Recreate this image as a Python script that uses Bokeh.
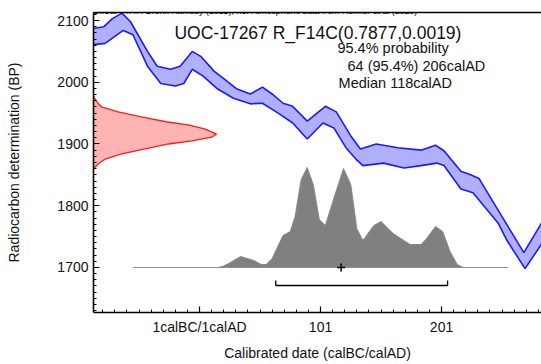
from bokeh.plotting import figure
from bokeh.models import (Range1d, LinearAxis, FixedTicker, Label)
from bokeh.embed import file_html
from bokeh.resources import INLINE

# ---- data ----
# Calibration curve band (calendar year, radiocarbon BP)
upper_year = [-87, -78, -71, -63, -56, -42, -34, -23, -15, -5, 2, 13, 21, 32, 43, 53, 61, 70, 78, 90,
              105, 114, 126, 134, 147, 165, 184, 196, 203, 217, 225, 232, 252, 269, 284]
upper_bp = [2087, 2090, 2103, 2112, 2098, 2050, 2026, 2021, 2026, 2050, 2042, 2018, 2006, 1989, 1981,
            1992, 1981, 1966, 1961, 1937, 1961, 1952, 1913, 1892, 1900, 1894, 1890, 1898, 1889, 1856,
            1850, 1844, 1779, 1724, 1773]
lower_year = [-87, -77, -62, -54, -42, -31, -19, -12, -5, 4, 16, 29, 43, 53, 66, 78, 90, 103, 112, 122,
              130, 136, 153, 170, 184, 197, 203, 217, 227, 248, 255, 270, 284]
lower_bp = [2061, 2063, 2084, 2077, 2026, 1998, 1994, 1998, 2021, 2010, 1989, 1974, 1965, 1966, 1950,
            1934, 1908, 1934, 1926, 1894, 1876, 1865, 1869, 1861, 1865, 1869, 1865, 1827, 1821, 1771,
            1744, 1698, 1739]

# Radiocarbon measurement distribution (BP, relative density)
meas_bp = [1977, 1969, 1960, 1952, 1944, 1936, 1931, 1924, 1916, 1911, 1905, 1900, 1892, 1884, 1876,
           1868, 1860]
meas_p = [0.0, 0.024, 0.065, 0.20, 0.39, 0.59, 0.77, 0.91, 1.0, 0.96, 0.80, 0.61, 0.42, 0.23, 0.10,
          0.04, 0.0]

# Calibrated distribution (calendar year, relative density)
cal_year = [-54, 16, 20, 25, 35, 46, 52, 56, 61, 70, 76, 80, 85, 90, 95, 100, 105, 113, 120, 126, 131,
            136, 145, 151, 161, 175, 184, 188, 196, 202, 208, 214, 219, 256]
cal_p = [0, 0, 0.01, 0.04, 0.11, 0.07, 0.03, 0.03, 0.09, 0.32, 0.36, 0.51, 0.88, 1.0, 0.83, 0.48, 0.42,
         0.73, 0.99, 0.83, 0.39, 0.27, 0.42, 0.46, 0.34, 0.23, 0.23, 0.28, 0.41, 0.36, 0.16, 0.03, 0, 0]

range_from = [64]
range_to = [206]
median = [118]

y_ticks = [1700, 1800, 1900, 2000, 2100]
x_ticks = [1, 101, 201]
x_tick_labels = {1: "1calBC/1calAD", 101: "101", 201: "201"}

header = "OxCal v4.4.4 Bronk Ramsey (2021); r:5: Atmospheric data from Reimer et al (2020)"
sample = "UOC-17267 R_F14C(0.7877,0.0019)"

FONT = "Liberation Sans"

p = figure(width=541, height=364, output_backend="svg", toolbar_location=None,
           x_range=Range1d(-86.6, 283.6), y_range=Range1d(1627, 2113),
           frame_width=448, frame_height=300,
           min_border_left=93, min_border_right=0, min_border_top=12, min_border_bottom=52,
           x_axis_location=None, y_axis_location=None)
p.outline_line_color = None
p.xgrid.visible = False
p.ygrid.visible = False
p.background_fill_color = "white"
p.border_fill_color = "white"

p.extra_x_ranges = {"prob": Range1d(0, 448 / 123)}
p.extra_y_ranges = {"cal": Range1d(-0.45, 2.55)}

# calibration band
band_x = upper_year + lower_year[::-1]
band_y = upper_bp + lower_bp[::-1]
p.patch(band_x, band_y, fill_color="#b0b0ff", line_color=None)
p.line(upper_year, upper_bp, line_color="#1a1aff", line_width=1.6)
p.line(lower_year, lower_bp, line_color="#1a1aff", line_width=1.6)

# measurement distribution on y axis
p.patch(meas_p, meas_bp, x_range_name="prob", fill_color="#ffb4b4", line_color=None)
p.line(meas_p, meas_bp, x_range_name="prob", line_color="#ff1a1a", line_width=1.3)

# calibrated distribution
p.patch(cal_year, cal_p, y_range_name="cal", fill_color="#808080", line_color="#8a8a8a", line_width=1)
p.line([cal_year[0], cal_year[-1]], [0, 0], y_range_name="cal", line_color="#8c8c8c", line_width=1)

# median cross
p.scatter(median, [0], y_range_name="cal", marker="cross", size=8, line_color="black", line_width=1.5)

# 95.4% range bracket
br_y = -0.18
br_t = -0.13
p.line([range_from[0], range_from[0], range_to[0], range_to[0]], [br_t, br_y, br_y, br_t],
       y_range_name="cal", line_color="black", line_width=1.3)

# axes
yax = LinearAxis(ticker=FixedTicker(ticks=y_ticks, minor_ticks=list(range(1630, 2120, 10))))
yax.axis_label = "Radiocarbon determination (BP)"
p.add_layout(yax, "left")

xax = LinearAxis(ticker=FixedTicker(ticks=x_ticks, minor_ticks=list(range(-79, 290, 10))))
xax.axis_label = "Calibrated date (calBC/calAD)"
xax.major_label_overrides = x_tick_labels
p.add_layout(xax, "below")

for ax in (xax, yax):
    ax.axis_line_color = "black"
    ax.axis_line_width = 1.6
    ax.major_tick_in = 6
    ax.major_tick_out = 0
    ax.minor_tick_in = 3
    ax.minor_tick_out = 0
    ax.major_tick_line_color = "black"
    ax.minor_tick_line_color = "black"
    ax.major_tick_line_width = 1.2
    ax.minor_tick_line_width = 1
    ax.major_label_text_font = FONT
    ax.major_label_text_font_size = "14px"
    ax.major_label_text_color = "#111111"
    ax.axis_label_text_font = FONT
    ax.axis_label_text_font_size = "14px"
    ax.axis_label_text_font_style = "normal"
    ax.axis_label_text_color = "#111111"

yax.major_label_standoff = 5
yax.axis_label_standoff = 32
xax.major_label_standoff = 6
xax.axis_label_standoff = 7

top = LinearAxis(ticker=FixedTicker(ticks=[]), axis_line_color="black", axis_line_width=1.6,
                 major_tick_line_color=None, minor_tick_line_color=None,
                 major_label_text_font_size="0px")
p.add_layout(top, "above")

# texts
p.add_layout(Label(x=-87.4, y=2116, text=header, text_font=FONT, text_font_size="8.8px",
                   text_color="#000000", text_baseline="alphabetic", level="overlay"))
p.add_layout(Label(x=-19.7, y=2080.5, text=sample, text_font=FONT, text_font_size="17.5px",
                   text_color="#111111", text_baseline="alphabetic"))
p.add_layout(Label(x=115.0, y=2056.3, text="95.4% probability", text_font=FONT,
                   text_font_size="14.5px", text_color="#111111", text_baseline="alphabetic"))
p.add_layout(Label(x=123.3, y=2026.0, text=f"{range_from[0]} (95.4%) {range_to[0]}calAD", text_font=FONT,
                   text_font_size="14.5px", text_color="#111111", text_baseline="alphabetic"))
p.add_layout(Label(x=115.9, y=1998.0, text=f"Median {median[0]}calAD", text_font=FONT,
                   text_font_size="14.5px", text_color="#111111", text_baseline="alphabetic"))

open("out.html", "w").write(file_html(p, INLINE))
